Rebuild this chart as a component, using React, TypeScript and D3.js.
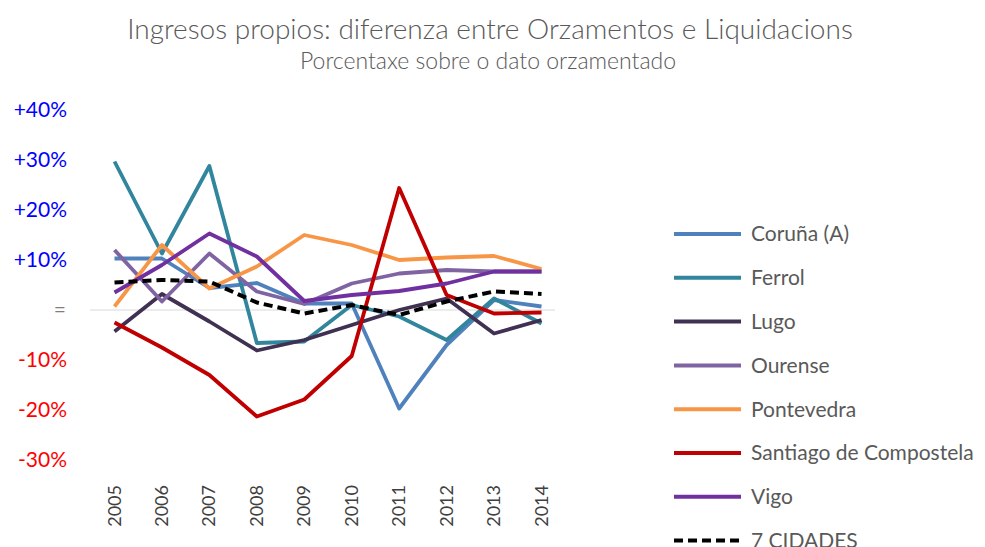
import React, { useRef, useEffect } from "react";
import * as d3 from "d3";

const years = ["2005", "2006", "2007", "2008", "2009", "2010", "2011", "2012", "2013", "2014"];

const coruna = [10.3, 10.3, 4.4, 5.4, 1.3, 1.3, -19.7, -7, 2, 0.7];
const ferrol = [29.7, 11.3, 28.8, -6.6, -6.3, 1, -1.3, -6, 2.3, -2.7];
const lugo = [-4.3, 3.2, -2.3, -8.1, -6, -3, 0, 2.3, -4.7, -2];
const ourense = [12, 1.7, 11.3, 3.7, 1.2, 5.3, 7.3, 8, 7.7, 7.7];
const pontevedra = [0.7, 13, 4.3, 8.7, 15, 13, 10, 10.5, 10.8, 8.2];
const santiago = [-2.5, -7.5, -13, -21.3, -17.9, -9.2, 24.4, 3, -0.7, -0.5];
const vigo = [3.5, 9, 15.3, 10.7, 1.8, 3, 3.8, 5.3, 7.7, 7.7];
const sieteCidades = [5.5, 6, 5.7, 1.5, -0.7, 1, -1, 1.7, 3.7, 3.2];

const yTicks = [40, 30, 20, 10, 0, -10, -20, -30];

const seriesList = [
  { name: "Coruña (A)", values: coruna, color: "#4F81BD", dash: null },
  { name: "Ferrol", values: ferrol, color: "#31859C", dash: null },
  { name: "Lugo", values: lugo, color: "#403152", dash: null },
  { name: "Ourense", values: ourense, color: "#8064A2", dash: null },
  { name: "Pontevedra", values: pontevedra, color: "#F79646", dash: null },
  { name: "Santiago de Compostela", values: santiago, color: "#C00000", dash: null },
  { name: "Vigo", values: vigo, color: "#7030A0", dash: null },
  { name: "7 CIDADES", values: sieteCidades, color: "#000000", dash: "9,5" },
];

const App = () => {
  const chartRef = useRef<HTMLDivElement>(null);

  useEffect(() => {
    const width = 985;
    const height = 547;
    const font = "Lato, 'Open Sans', sans-serif";

    const x = d3.scalePoint<string>()
      .domain(years)
      .range([114.5, 541.5]);

    const y = d3.scaleLinear()
      .domain([-30, 40])
      .range([460, 110]);

    const svg = d3.create("svg")
      .attr("width", width)
      .attr("height", height)
      .attr("viewBox", [0, 0, width, height])
      .style("position", "absolute")
      .style("left", "0px")
      .style("top", "0px")
      .style("background", "#fff");

    // titles
    svg.append("text")
      .attr("x", 490)
      .attr("y", 39)
      .attr("text-anchor", "middle")
      .attr("font-family", font)
      .attr("font-size", 28)
      .attr("font-weight", 300)
      .attr("fill", "#595959")
      .text("Ingresos propios: diferenza entre Orzamentos e Liquidacions");

    svg.append("text")
      .attr("x", 488)
      .attr("y", 69)
      .attr("text-anchor", "middle")
      .attr("font-family", font)
      .attr("font-size", 23)
      .attr("font-weight", 300)
      .attr("fill", "#595959")
      .text("Porcentaxe sobre o dato orzamentado");

    // zero line
    svg.append("line")
      .attr("x1", 90)
      .attr("x2", 555)
      .attr("y1", y(0))
      .attr("y2", y(0))
      .attr("stroke", "#d9d9d9")
      .attr("stroke-width", 1);

    // y labels
    svg.append("g")
      .selectAll("text")
      .data(yTicks)
      .join("text")
      .attr("x", d => (d === 0 ? 66 : 67))
      .attr("y", d => y(d))
      .attr("dy", "0.35em")
      .attr("text-anchor", "end")
      .attr("font-family", font)
      .attr("font-size", 21)
      .attr("fill", d => (d > 0 ? "#0000FF" : d < 0 ? "#FF0000" : "#7f7f7f"))
      .text(d => (d > 0 ? `+${d}%` : d < 0 ? `-${Math.abs(d)}%` : "="));

    // x labels
    svg.append("g")
      .selectAll("text")
      .data(years)
      .join("text")
      .attr("transform", d => `translate(${x(d)! + 6},485) rotate(-90)`)
      .attr("text-anchor", "end")
      .attr("font-family", font)
      .attr("font-size", 18)
      .attr("fill", "#404040")
      .text(d => d);

    const line = d3.line<number>()
      .x((d, i) => x(years[i])!)
      .y(d => y(d));

    svg.append("g")
      .selectAll("path")
      .data(seriesList)
      .join("path")
      .attr("d", d => line(d.values))
      .attr("fill", "none")
      .attr("stroke", d => d.color)
      .attr("stroke-width", d => (d.dash ? 4 : 3.8))
      .attr("stroke-dasharray", d => d.dash)
      .attr("stroke-linejoin", "round");

    // legend
    const legend = svg.append("g");
    seriesList.forEach((s, i) => {
      const ly = 234 + i * 43.8;
      legend.append("line")
        .attr("x1", 674)
        .attr("x2", 741)
        .attr("y1", ly)
        .attr("y2", ly)
        .attr("stroke", s.color)
        .attr("stroke-width", 4)
        .attr("stroke-dasharray", s.dash);
      legend.append("text")
        .attr("x", 751)
        .attr("y", ly)
        .attr("dy", "0.35em")
        .attr("font-family", font)
        .attr("font-size", 21)
        .attr("fill", "#595959")
        .text(s.name);
    });

    chartRef.current!.innerHTML = "";
    chartRef.current!.appendChild(svg.node()!);
  }, []);

  return <div ref={chartRef} />;
};

export default App;
